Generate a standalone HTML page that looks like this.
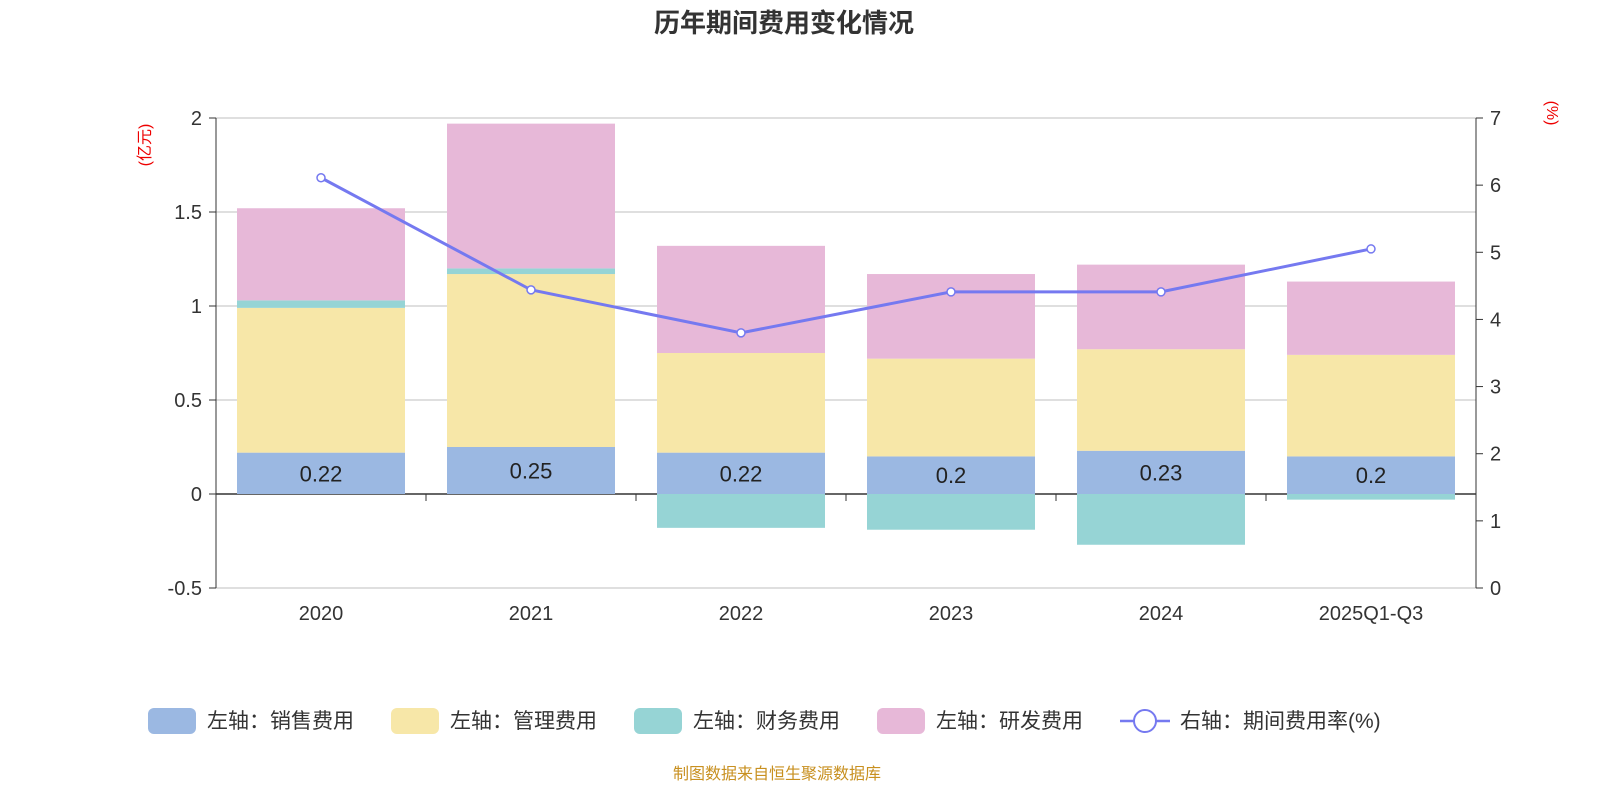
<!DOCTYPE html>
<html><head><meta charset="utf-8">
<style>
body{margin:0;background:#fff;}
svg text{font-family:"Liberation Sans","Noto Sans CJK SC",sans-serif;}
</style></head>
<body>
<svg id="chart" width="1600" height="800" xmlns="http://www.w3.org/2000/svg">
<text x="784" y="32" text-anchor="middle" font-size="26" font-weight="bold" fill="#333">历年期间费用变化情况</text>
<text transform="translate(150,145) rotate(-90)" text-anchor="middle" font-size="16" fill="#e00">(亿元)</text>
<text transform="translate(1547,113) rotate(90)" text-anchor="middle" font-size="16" fill="#e00">(%)</text>
<g id="plot"></g>
<g id="legend">
<rect x="148" y="708" width="48" height="26" rx="6" fill="#9bb8e2"/>
<text x="207" y="728" font-size="21" fill="#333">左轴：销售费用</text>
<rect x="391" y="708" width="48" height="26" rx="6" fill="#f7e7a8"/>
<text x="450" y="728" font-size="21" fill="#333">左轴：管理费用</text>
<rect x="634" y="708" width="48" height="26" rx="6" fill="#96d4d5"/>
<text x="693" y="728" font-size="21" fill="#333">左轴：财务费用</text>
<rect x="877" y="708" width="48" height="26" rx="6" fill="#e7b8d8"/>
<text x="936" y="728" font-size="21" fill="#333">左轴：研发费用</text>
<line x1="1120" y1="721" x2="1170" y2="721" stroke="#7579f0" stroke-width="2.5"/>
<circle cx="1145" cy="721" r="11" fill="#fff" stroke="#7579f0" stroke-width="2"/>
<text x="1180" y="728" font-size="21" fill="#333">右轴：期间费用率(%)</text>
</g>
<text x="777" y="779" text-anchor="middle" font-size="16" fill="#c89020">制图数据来自恒生聚源数据库</text>
</svg>
<script>
const categories=["2020","2021","2022","2023","2024","2025Q1-Q3"];
const sales=[0.22,0.25,0.22,0.2,0.23,0.2];
const admin=[0.77,0.92,0.53,0.52,0.54,0.54];
const finance=[0.04,0.03,-0.18,-0.19,-0.27,-0.03];
const rd=[0.49,0.77,0.57,0.45,0.45,0.39];
const rate=[6.11,4.44,3.80,4.41,4.41,5.05];
const leftTicks=[-0.5,0,0.5,1,1.5,2];
const rightTicks=[0,1,2,3,4,5,6,7];
const NS="http://www.w3.org/2000/svg";
const g=document.getElementById('plot');
const X0=216,X1=1476,YT=118,YB=588;
const yL=v=>YB-(v-(-0.5))/(2.5)*(YB-YT);
const yR=v=>YB-v/7*(YB-YT);
const band=(X1-X0)/categories.length;
const xC=i=>X0+band*(i+0.5);
function el(t,a,name,inter){const e=document.createElementNS(NS,t);for(const k in a)e.setAttribute(k,a[k]);


g.appendChild(e);return e;}
leftTicks.forEach(v=>{
 el('line',{x1:X0,x2:X1,y1:yL(v),y2:yL(v),stroke:v===0?'#333':'#ccc','stroke-width':v===0?1.5:1.2},'gridline');
 el('line',{x1:X0-7,x2:X0,y1:yL(v),y2:yL(v),stroke:'#333'},'left-tick');
 const t=el('text',{x:X0-14,y:yL(v)+7,'text-anchor':'end','font-size':20,fill:'#333'},'left-tick-label');t.textContent=v;
});
rightTicks.forEach(v=>{
 el('line',{x1:X1,x2:X1+7,y1:yR(v),y2:yR(v),stroke:'#333'},'right-tick');
 const t=el('text',{x:X1+14,y:yR(v)+7,'font-size':20,fill:'#333'},'right-tick-label');t.textContent=v;
});
el('line',{x1:X0,x2:X0,y1:YT,y2:YB,stroke:'#333'},'left-axis-line');
el('line',{x1:X1,x2:X1,y1:YT,y2:YB,stroke:'#333'},'right-axis-line');
for(let i=0;i<=categories.length;i++)el('line',{x1:X0+band*i,x2:X0+band*i,y1:yL(0),y2:yL(0)+7,stroke:'#333'},'x-tick');
const bw=168;
categories.forEach((c,i)=>{
 const x=xC(i)-bw/2;
 let pos=0,neg=0;
 [[sales,'#9bb8e2','bar-sales'],[admin,'#f7e7a8','bar-admin'],[finance,'#96d4d5','bar-finance'],[rd,'#e7b8d8','bar-rd']].forEach(([arr,col,nm])=>{
  const v=arr[i];let a,b;
  if(v>=0){a=pos;b=pos+v;pos=b;}else{a=neg;b=neg+v;neg=b;}
  const y1=yL(Math.max(a,b)),y2=yL(Math.min(a,b));
  el('rect',{x:x,y:y1,width:bw,height:y2-y1,fill:col},nm+'-'+c);
 });
 const t=el('text',{x:xC(i),y:yL(sales[i]/2)+8,'text-anchor':'middle','font-size':22,fill:'#222'},'sales-value-label');t.textContent=sales[i];
 const l=el('text',{x:xC(i),y:620,'text-anchor':'middle','font-size':20,fill:'#333'},'x-tick-label');l.textContent=c;
});
el('polyline',{points:rate.map((v,i)=>xC(i)+','+yR(v)).join(' '),fill:'none',stroke:'#7579f0','stroke-width':3},'rate-line');
rate.forEach((v,i)=>el('circle',{cx:xC(i),cy:yR(v),r:4,fill:'#fff',stroke:'#7579f0','stroke-width':1.5},'rate-point-'+categories[i]));
</script>
</body></html>
